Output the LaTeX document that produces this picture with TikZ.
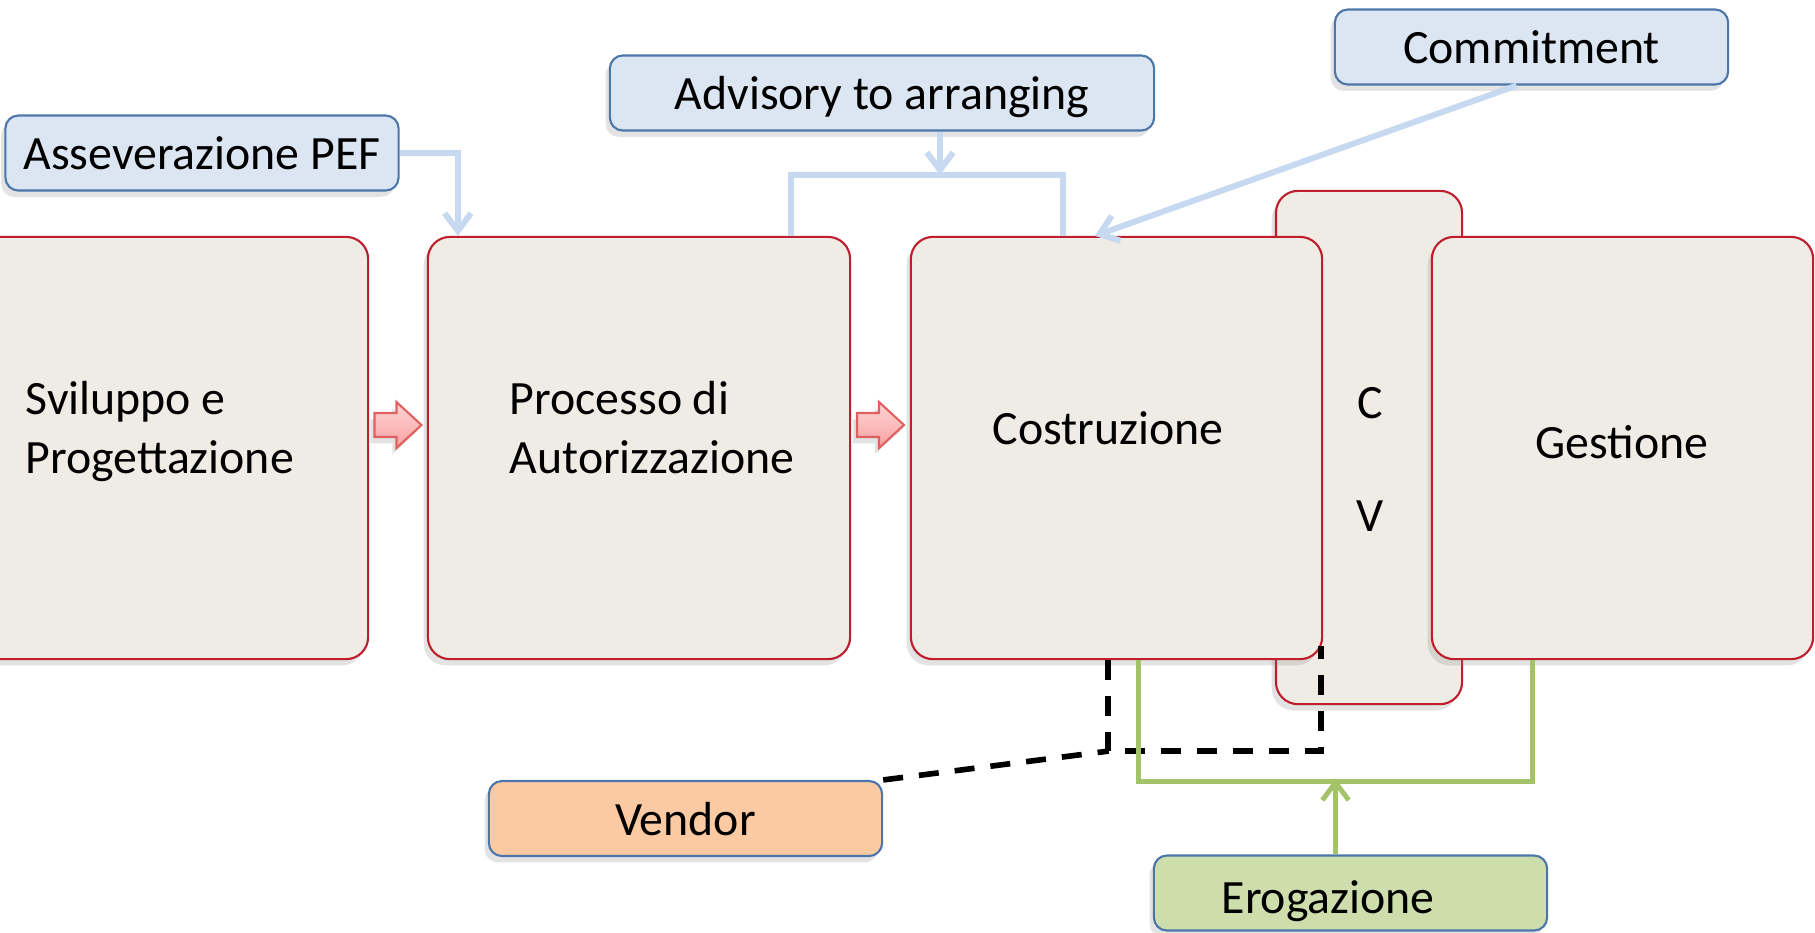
\documentclass[tikz,border=0pt]{standalone}
\usepackage{fontspec}
\setmainfont{Carlito}
\usepackage{xcolor}
\usepackage{tikz}
\usetikzlibrary{calc}
\usetikzlibrary{arrows.meta}
\usetikzlibrary{shadows}

\definecolor{stagefill}{RGB}{238,236,228}
\definecolor{stageline}{RGB}{190,30,45}
\definecolor{tagfill}{RGB}{220,230,242}
\definecolor{tagline}{RGB}{75,118,170}
\definecolor{conblue}{RGB}{198,217,240}
\definecolor{vendorfill}{RGB}{251,202,162}
\definecolor{erogfill}{RGB}{205,221,172}
\definecolor{congreen}{RGB}{163,195,104}
\definecolor{pinktop}{RGB}{255,214,214}
\definecolor{pinkbot}{RGB}{248,160,160}
\definecolor{pinkline}{RGB}{222,96,96}

\tikzset{
    softshadow/.style={drop shadow={shadow xshift=-1.2pt, shadow yshift=-1.8pt, opacity=0.22}},
    stage/.style={draw=stageline, line width=0.6pt, fill=stagefill, rounded corners=0.22cm,
        softshadow, minimum height=4.22cm, inner sep=0pt},
    stagetext/.style={font=\fontsize{13.6}{16.5}\selectfont, inner sep=0pt, align=left, anchor=base west},
    tag/.style={draw=tagline, line width=0.6pt, fill=tagfill, rounded corners=0.13cm, softshadow,
        minimum height=0.75cm, minimum width=3.93cm, inner sep=0pt, text height=0.38cm, text depth=0.05cm,
        font=\fontsize{13.6}{16.5}\selectfont},
    bluecon/.style={draw=conblue, line width=1.7pt},
    greencon/.style={draw=congreen, line width=1.4pt},
    vendorline/.style={draw=black, line width=1.6pt, dash pattern=on 0.2cm off 0.16cm},
    pinkarr/.style={draw=pinkline, line width=0.6pt, top color=pinktop, bottom color=pinkbot, softshadow},
    barb/.style={-{Straight Barb[length=5pt,width=7.5pt]}}
}

\newcommand{\pinkarrow}[1]{%
    \draw[pinkarr] (#1) ++(-23.5,-12) -- ++(22,0) -- ++(0,-11) -- ++(25,23) -- ++(-25,23) -- ++(0,-11) -- ++(-22,0) -- cycle;}

\begin{document}
\begin{tikzpicture}[x=0.01cm, y=-0.01cm]
    \useasboundingbox (0,0) rectangle (1815,932);

    %FASI
    \node[stage, minimum width=1.86cm, minimum height=5.13cm] (cv) at (1369,447.5) {};
    \node[stage, minimum width=4.28cm] (svil) at (154,448) {};
    \node[stage, minimum width=4.22cm] (proc) at (639,448) {};
    \node[stage, minimum width=4.11cm] (costr) at (1116.5,448) {};
    \node[stage, minimum width=3.81cm] (gest) at (1622.5,448) {};

    %TESTI FASI
    \node[stagetext] (tsvil) at (25,473) {Sviluppo e\\Progettazione};
    \node[stagetext] (tproc) at (509,473) {Processo di\\Autorizzazione};
    \node[stagetext] (tcostr) at (992,444) {Costruzione};
    \node[stagetext, anchor=base] (tc) at (1370,418) {C};
    \node[stagetext, anchor=base] (tv) at (1370,531) {V};
    \node[stagetext, anchor=base] (tgest) at (1622,458) {Gestione};

    %FRECCE FASI
    \pinkarrow{$(svil.east)!0.5!(proc.west)+(0,-23)$}
    \pinkarrow{$(proc.east)!0.5!(costr.west)+(0,-23)$}

    %ETICHETTE
    \node[tag] (assev) at (202,153) {Asseverazione PEF};
    \node[tag, minimum width=5.44cm] (advis) at (882,93) {Advisory to arranging};
    \node[tag] (commit) at (1531.5,47) {Commitment};
    \node[tag, fill=vendorfill] (vendor) at (685.5,818.5) {Vendor};
    \node[tag, fill=erogfill] (erog) at (1350.5,893) {};
    \node[stagetext] (terog) at (1221,913) {Erogazione};

    %COLLEGAMENTI
    \draw[bluecon, barb] (assev.east) -| ($(proc.north west)+(31,0)$);
    \coordinate (brk) at (940,175);
    \draw[bluecon] ($(proc.north east)+(-60,0)$) |- (brk) -| ($(costr.north west)+(153,0)$);
    \draw[bluecon, barb] (advis.south -| brk) -- (brk);
    \draw[bluecon, barb] ($(commit.south)+(-15,0)$) -- ($(costr.north west)+(185,0)$);

    %VENDOR
    \coordinate (vcorner) at ($(costr.south west)+(198,91)$);
    \draw[vendorline] (costr.south west -| vcorner) -- (vcorner) -| ($(costr.south east)+(-2,-14)$);
    \draw[vendorline] (vendor.north east) -- (vcorner);

    %EROGAZIONE
    \draw[greencon] ($(costr.south west)+(229,0)$) -- ++(0,121) -| ($(gest.south west)+(102,0)$);
    \draw[greencon, barb] ($(erog.north)+(-15,0)$) -- ++(0,-76);
\end{tikzpicture}
\end{document}
